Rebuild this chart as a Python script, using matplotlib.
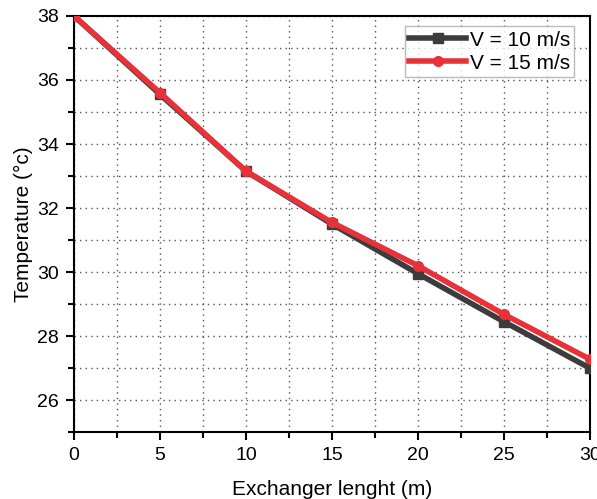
import matplotlib
matplotlib.use("Agg")
import matplotlib.pyplot as plt
from matplotlib.ticker import MultipleLocator

x = [0, 5, 10, 15, 20, 25, 30]
t_v10 = [38.0, 35.55, 33.15, 31.5, 29.95, 28.45, 27.0]
t_v15 = [38.0, 35.6, 33.15, 31.55, 30.2, 28.68, 27.28]
labels = ["V = 10 m/s", "V = 15 m/s"]

plt.rcParams['font.family'] = ['Liberation Sans', 'DejaVu Sans']
fig = plt.figure(figsize=(5.97, 4.99), dpi=100)
ax = fig.add_axes([0.124, 0.134, 0.864, 0.834])

ax.plot(x, t_v10, color='#3c3c3c', lw=4, marker='s', ms=7, label=labels[0], zorder=3)
ax.plot(x, t_v15, color='#e8323a', lw=4, marker='o', ms=7, label=labels[1], zorder=4)

ax.set_xlim(0, 30)
ax.set_ylim(25, 38)
ax.xaxis.set_major_locator(MultipleLocator(5))
ax.xaxis.set_minor_locator(MultipleLocator(2.5))
ax.yaxis.set_major_locator(MultipleLocator(2))
ax.yaxis.set_minor_locator(MultipleLocator(1))
ax.grid(which='both', ls=(0, (1, 3)), color='#555555', lw=1)
ax.tick_params(which='major', direction='out', length=6, width=1.5, labelsize=14,
               colors='black', pad=5)
ax.tick_params(which='minor', direction='out', length=4, width=1.5)
for s in ax.spines.values():
    s.set_linewidth(1.5)

ax.set_xlabel("Exchanger lenght (m)", fontsize=15, labelpad=11)
ax.set_ylabel("Temperature (°c)", fontsize=15, labelpad=3)

leg = ax.legend(loc='upper right', fontsize=15, frameon=True, fancybox=False,
                edgecolor='#aaaaaa', handlelength=2.7, borderaxespad=0.5,
                handletextpad=0.2, borderpad=0.2, labelspacing=0.2,
                bbox_to_anchor=(0.99, 1.0))
leg.get_frame().set_linewidth(1)

fig.savefig("out.png", dpi=100)
